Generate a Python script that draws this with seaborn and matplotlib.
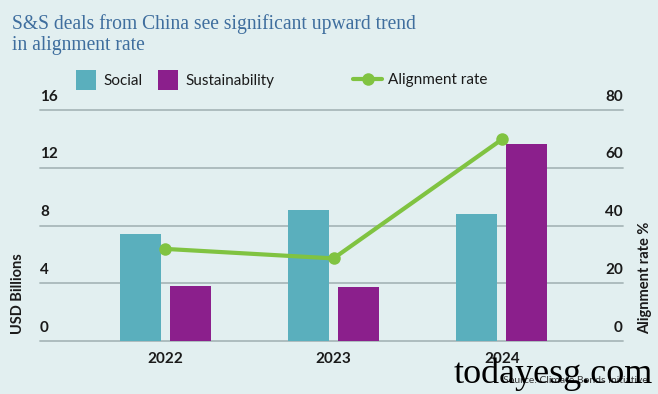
import numpy as np
import pandas as pd
import seaborn as sns
import matplotlib.pyplot as plt
from matplotlib.lines import Line2D

# data
years = ["2022", "2023", "2024"]
social = [7.4, 9.1, 8.8]
sustainability = [3.8, 3.75, 13.65]
alignment_rate = [31.9, 28.6, 69.8]

bg = "#e2eff0"
teal = "#5aafbd"
purple = "#8b1f8c"
green = "#80c341"
grid_c = "#a9b8ba"
txt = "#1a1a1a"

sns.set_theme(style="white")
plt.rcParams["font.family"] = ["Lato", "DejaVu Sans"]

df = pd.DataFrame({
    "year": years * 2,
    "value": social + sustainability,
    "type": ["Social"] * 3 + ["Sustainability"] * 3,
})

fig = plt.figure(figsize=(6.58, 3.94), dpi=100, facecolor=bg)
ax = fig.add_axes([0.0608, 0.1345, 0.886, 0.5863], facecolor=bg)
ax.patch.set_visible(False)
ax2 = ax.twinx()

sns.barplot(data=df, x="year", y="value", hue="type", ax=ax,
            palette=[teal, purple], width=0.596, gap=0.18,
            saturation=1, errorbar=None, linewidth=0, zorder=2)
bar_handles, bar_labels = ax.get_legend_handles_labels()
ax.get_legend().remove()

ax.set_xlim(-0.744, 2.72)
ax.set_ylim(0, 16)
ax.set_yticks([0, 4, 8, 12, 16])
for s in ax.spines.values():
    s.set_visible(False)
ax.tick_params(axis="y", left=False, labelleft=False, right=False)
ax.tick_params(axis="x", bottom=False, pad=2)
for lbl in ax.get_xticklabels():
    lbl.set_fontweight("bold")
    lbl.set_fontsize(11)
    lbl.set_color(txt)
ax.set_xlabel("")
ax.set_ylabel("")

# gridlines at the tick values, drawn underneath the axes so bars cover them
ytr = ax.get_yaxis_transform()
for v in ax.get_yticks():
    fig.add_artist(Line2D([0, 1], [v, v], transform=ytr, color=grid_c,
                          linewidth=1.3, zorder=-1))
    # left tick labels sit above the gridlines
    ax.text(0.0, v + 0.45, f"{v:g}", transform=ytr, ha="left", va="bottom",
            fontsize=11, fontweight="bold", color=txt)

sns.lineplot(x=np.arange(len(years)), y=alignment_rate, ax=ax2, color=green,
             linewidth=3, marker="o", markersize=9, markeredgewidth=0,
             clip_on=False)
ax2.set_ylim(0, 80)
ax2.set_yticks([0, 20, 40, 60, 80])
ax2.tick_params(axis="y", right=False, labelright=False, left=False)
for s in ax2.spines.values():
    s.set_visible(False)
ytr2 = ax2.get_yaxis_transform()
for v in ax2.get_yticks():
    ax2.text(1.0, v + 2.25, f"{v:g}", transform=ytr2, ha="right", va="bottom",
             fontsize=11, fontweight="bold", color=txt)

# axis titles
fig.text(0.028, 0.255, "USD Billions", rotation=90, ha="center", va="center",
         fontsize=10.5, fontweight="bold", color=txt)
fig.text(0.981, 0.295, "Alignment rate %", rotation=90, ha="center",
         va="center", fontsize=10.5, fontweight="bold", color=txt)

# title
fig.text(0.018, 0.965, "S&S deals from China see significant upward trend\nin alignment rate",
         ha="left", va="top", fontsize=14.1, color="#3f6e9e",
         family=["Liberation Serif", "DejaVu Serif"], linespacing=1.2)

# legends
leg1 = fig.legend(bar_handles, bar_labels, loc="center left",
                  bbox_to_anchor=(0.095, 0.797), ncol=2, frameon=False,
                  fontsize=11, handlelength=1.3, handleheight=1.7,
                  handletextpad=0.5, columnspacing=1.0)
for t in leg1.get_texts():
    t.set_color(txt)
line_handle = Line2D([], [], color=green, linewidth=3, marker="o",
                     markersize=9, markeredgewidth=0)
leg2 = fig.legend([line_handle], ["Alignment rate"], loc="center left",
                  bbox_to_anchor=(0.516, 0.797), frameon=False, fontsize=11,
                  handlelength=1.9, handletextpad=0.4)
for t in leg2.get_texts():
    t.set_color(txt)

# source and watermark
fig.text(0.985, 0.035, "Source: Climate Bonds Initiative", ha="right",
         va="center", fontsize=7.5, color="#333333")
fig.text(0.69, 0.05, "todayesg.com", ha="left", va="center", fontsize=26,
         color="black", family=["Liberation Serif", "DejaVu Serif"])

fig.savefig("out.png", dpi=100, facecolor=bg)
